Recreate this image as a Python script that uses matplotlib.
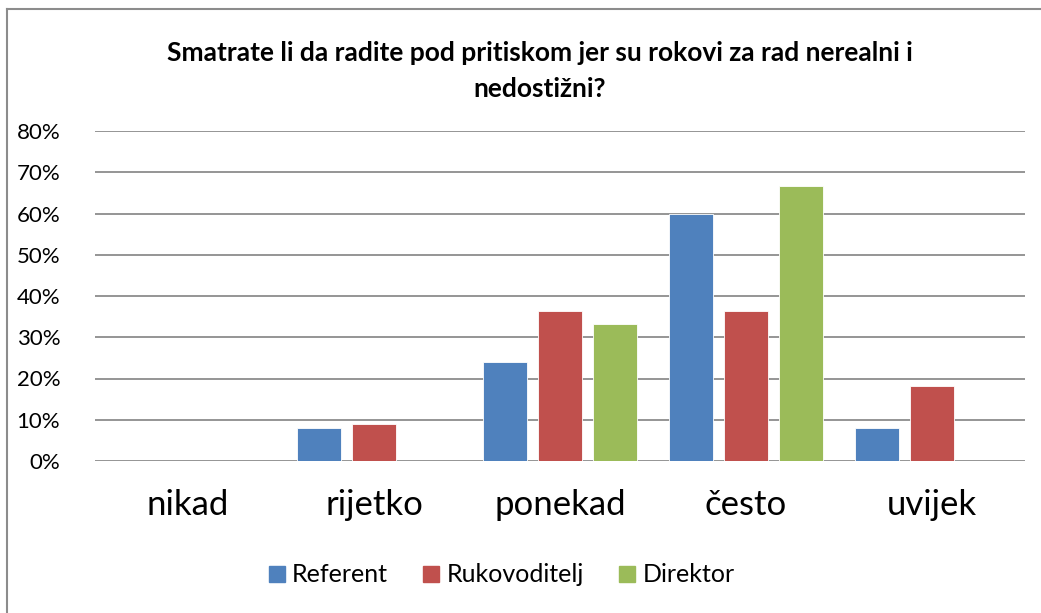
import matplotlib
matplotlib.use("Agg")
import matplotlib.pyplot as plt
import numpy as np
from matplotlib.lines import Line2D

plt.rcParams['font.family'] = ['Lato', 'DejaVu Sans']

categories = ["nikad", "rijetko", "ponekad", "često", "uvijek"]
series_names = ["Referent", "Rukovoditelj", "Direktor"]
referent = [0, 8, 24, 60, 8]
rukovoditelj = [0, 9.09, 36.36, 36.36, 18.18]
direktor = [0, 0, 33.33, 66.67, 0]
yticks = [0, 10, 20, 30, 40, 50, 60, 70, 80]
colors = ["#4F81BD", "#C0504D", "#9BBB59"]
title = "Smatrate li da radite pod pritiskom jer su rokovi za rad nerealni i\nnedostižni?"

W, H = 1041, 613
fig = plt.figure(figsize=(W / 100, H / 100), dpi=100)
ax = fig.add_axes([95 / W, 1 - 461 / H, 930 / W, 330 / H])

x = np.arange(len(categories))
bw = 0.237
step = 0.296
for i, (vals, c) in enumerate(zip([referent, rukovoditelj, direktor], colors)):
    ax.bar(x + (i - 1) * step, vals, width=bw, color=c, edgecolor="white",
           linewidth=0.6, label=series_names[i], zorder=3)

ax.set_xlim(-0.5, len(categories) - 0.5)
ax.set_ylim(0, 80)
ax.set_yticks(yticks)
ax.set_yticklabels([f"{v}%" for v in yticks], fontsize=16)
ax.set_xticks(x)
ax.set_xticklabels(categories, fontsize=25)
ax.tick_params(axis='y', length=0, pad=25)
ax.tick_params(axis='x', length=0, pad=20)
ax.grid(axis='y', color='#8C8C8C', linewidth=1.3, zorder=0)
for s in ax.spines.values():
    s.set_visible(False)

fig.text(540 / W, 1 - 71 / H, title, ha='center', va='center', fontsize=19,
         fontweight='bold', linespacing=1.6)

handles = [Line2D([0], [0], marker='s', linestyle='none', markersize=11,
                  markerfacecolor=c, markeredgecolor=c) for c in colors]
fig.legend(handles, series_names, loc='center', bbox_to_anchor=(500 / W, 1 - 575 / H),
           ncol=3, frameon=False, fontsize=18, handletextpad=0.15, columnspacing=1.3,
           handlelength=0.9)

# outer chart border (top and left visible)
fig.add_artist(Line2D([7 / W, 7 / W], [0, 1 - 9 / H], color='#8C8C8C', linewidth=1.5,
                      transform=fig.transFigure))
fig.add_artist(Line2D([7 / W, 1], [1 - 9 / H, 1 - 9 / H], color='#8C8C8C', linewidth=1.5,
                      transform=fig.transFigure))

fig.savefig("out.png", dpi=100)
